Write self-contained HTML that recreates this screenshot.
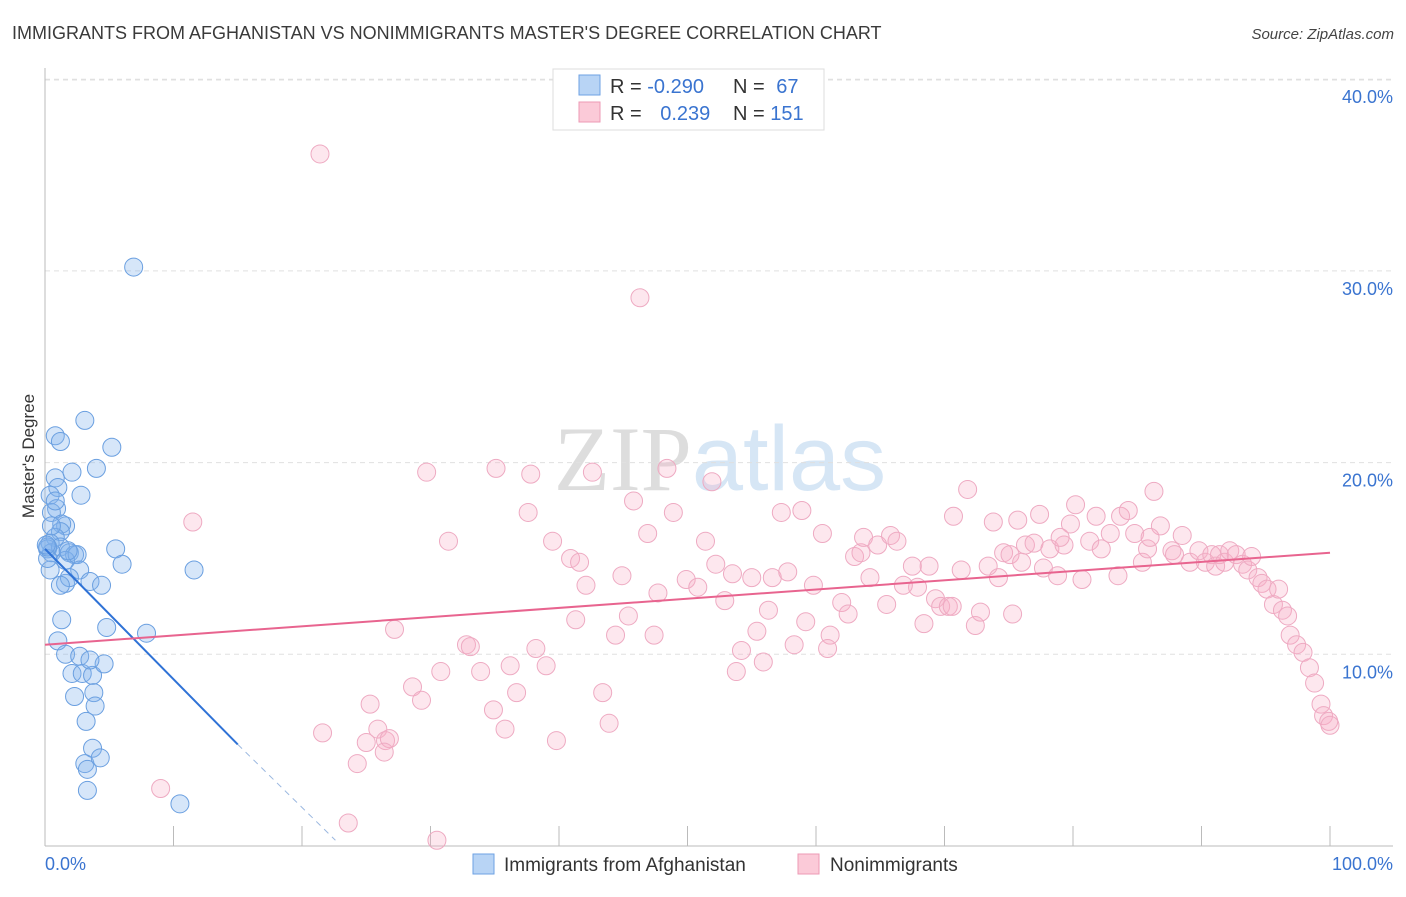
<!DOCTYPE html>
<html><head><meta charset="utf-8"><style>
body{margin:0;background:#fff;font-family:"Liberation Sans",sans-serif;}
svg text{font-family:"Liberation Sans",sans-serif;}
</style></head><body>
<svg id="chart" width="1406" height="892" xmlns="http://www.w3.org/2000/svg">
<text x="12" y="39" font-size="18" fill="#3a3a3a">IMMIGRANTS FROM AFGHANISTAN VS NONIMMIGRANTS MASTER'S DEGREE CORRELATION CHART</text>
<text x="1394" y="39" font-size="15" fill="#444" text-anchor="end" font-style="italic">Source: ZipAtlas.com</text>
<text x="720" y="490" font-size="92" text-anchor="middle" opacity="0.6"><tspan font-family="Liberation Serif" fill="#c8c8c8">ZIP</tspan><tspan fill="#bcd6f0">atlas</tspan></text>
<g id="grid"></g>
<g id="axes"></g>
<g id="pts"></g>
<g id="trend"></g>
<text transform="translate(34,456) rotate(-90)" font-size="17" fill="#333" text-anchor="middle">Master's Degree</text>
<text x="45" y="870" font-size="18" fill="#3a74d0">0.0%</text>
<text x="1393" y="870" font-size="18" fill="#3a74d0" text-anchor="end">100.0%</text>
<g>
<rect x="553" y="69" width="271" height="61" fill="#fff" stroke="#ddd"/>
<rect x="579" y="75" width="21" height="20" fill="#b8d4f5" stroke="#6ea2e3"/>
<rect x="579" y="102" width="21" height="20" fill="#fbcad8" stroke="#ec9ab5"/>
<text x="610" y="93" font-size="20" fill="#333">R = <tspan fill="#3a74d0">-0.290</tspan></text>
<text x="733" y="93" font-size="20" fill="#333">N = <tspan fill="#3a74d0" dx="6">67</tspan></text>
<text x="610" y="120" font-size="20" fill="#333">R = <tspan fill="#3a74d0" dx="13">0.239</tspan></text>
<text x="733" y="120" font-size="20" fill="#333">N = <tspan fill="#3a74d0">151</tspan></text>
</g>
<g>
<rect x="473" y="854" width="21" height="20" fill="#b8d4f5" stroke="#6ea2e3"/>
<text x="504" y="871" font-size="19" fill="#333">Immigrants from Afghanistan</text>
<rect x="798" y="854" width="21" height="20" fill="#fbcad8" stroke="#ec9ab5"/>
<text x="830" y="871" font-size="19" fill="#333">Nonimmigrants</text>
</g>
</svg>
<script>
const yTicks=[10,20,30,40];
const yTickLabels=["10.0%","20.0%","30.0%","40.0%"];
const xTicks=[0,10,20,30,40,50,60,70,80,90,100];
const blueX=[6.9,3.1,0.8,1.2,5.2,4.0,2.1,2.8,0.8,1.0,0.4,0.9,0.5,1.6,1.3,1.2,0.8,0.4,0.2,0.5,1.2,1.9,2.3,5.5,1.6,2.5,2.7,6.0,1.6,3.5,4.4,11.6,4.8,7.9,1.3,1.0,1.6,2.7,2.1,2.9,3.7,4.6,3.5,3.8,2.3,3.9,3.2,3.7,3.1,3.3,4.3,10.5,3.3,0.4,0.2,0.5,0.2,1.9,1.2,0.8,1.8,0.1];
const blueY=[30.2,22.2,21.4,21.1,20.8,19.7,19.5,18.3,19.2,18.7,18.3,17.6,17.4,16.7,16.8,16.4,16.1,15.8,15.5,15.3,15.6,15.3,15.2,15.5,14.9,15.2,14.4,14.7,13.7,13.8,13.6,14.4,11.4,11.1,11.8,10.7,10.0,9.9,9.0,9.0,8.9,9.5,9.7,8.0,7.8,7.3,6.5,5.1,4.3,4.0,4.6,2.2,2.9,14.4,15.0,16.7,15.6,14.0,13.6,18.0,15.4,15.7];
const pinkX=[21.4,46.3,11.5,9.0,23.6,30.5,29.7,35.1,37.8,42.6,48.4,51.9,31.4,37.6,39.5,40.9,41.6,42.1,41.3,45.8,46.9,44.9,45.4,44.4,47.4,47.7,48.9,49.9,50.8,51.4,52.2,52.9,53.5,55.0,56.3,55.4,54.2,53.8,55.9,57.3,58.9,56.6,57.8,59.2,58.3,59.8,60.5,61.1,60.9,62.0,62.5,63.0,63.5,63.7,64.2,64.8,65.5,65.8,66.3,67.5,67.9,66.8,68.4,68.8,69.3,69.7,70.3,70.6,70.7,71.3,71.8,72.4,72.8,73.4,73.8,74.2,74.6,75.1,75.7,76.0,76.3,76.97,77.4,77.7,78.2,78.8,79.3,79.8,80.2,80.7,81.3,81.8,82.2,82.9,83.5,83.7,84.3,84.8,85.4,85.8,86.3,86.8,87.7,87.9,88.5,89.1,89.8,90.3,90.8,91.1,91.4,91.8,92.2,92.7,93.2,93.6,93.9,94.4,94.7,95.1,95.6,96.0,96.3,96.7,96.9,97.4,97.9,98.4,98.8,99.3,99.5,99.9,100,27.2,32.8,33.1,30.8,33.9,36.2,38.2,39.0,28.6,29.3,36.7,34.9,35.8,25.3,25.9,26.5,26.8,26.4,25.0,24.3,21.6,39.8,43.4,43.9,75.3,79.0,86.0];
const pinkY=[36.1,28.6,16.9,3.0,1.2,0.3,19.5,19.7,19.4,19.5,19.7,19.0,15.9,17.4,15.9,15.0,14.8,13.6,11.8,18.0,16.3,14.1,12.0,11.0,11.0,13.2,17.4,13.9,13.5,15.9,14.7,12.8,14.2,14.0,12.3,11.2,10.2,9.1,9.6,17.4,17.5,14.0,14.3,11.7,10.5,13.6,16.3,11.0,10.3,12.7,12.1,15.1,15.3,16.1,14.0,15.7,12.6,16.2,15.9,14.6,13.5,13.6,11.6,14.6,12.9,12.5,12.5,12.5,17.2,14.4,18.6,11.5,12.2,14.6,16.9,14.0,15.3,15.2,17.0,14.8,15.7,15.8,17.3,14.5,15.5,14.1,15.7,16.8,17.8,13.9,15.9,17.2,15.5,16.3,14.1,17.2,17.5,16.3,14.8,15.5,18.5,16.7,15.4,15.2,16.2,14.8,15.4,14.8,15.2,14.6,15.2,14.8,15.4,15.2,14.7,14.4,15.1,14.0,13.7,13.4,12.6,13.4,12.3,12.0,11.0,10.5,10.1,9.3,8.5,7.4,6.8,6.5,6.3,11.3,10.5,10.4,9.1,9.1,9.4,10.3,9.4,8.3,7.6,8.0,7.1,6.1,7.4,6.1,5.5,5.6,4.9,5.4,4.3,5.9,5.5,8.0,6.4,12.1,16.1,16.1];
const X0=45,X1=1330,Y0=846,PPY=19.17;
const sx=v=>X0+(X1-X0)*v/100, sy=v=>Y0-v*PPY;
const NS="http://www.w3.org/2000/svg";
function mk(tag,attrs,parent){const e=document.createElementNS(NS,tag);for(const k in attrs)e.setAttribute(k,attrs[k]);parent.appendChild(e);return e;}
const grid=document.getElementById('grid'),axes=document.getElementById('axes'),pts=document.getElementById('pts'),trend=document.getElementById('trend');
yTicks.forEach((t,i)=>{
 const l=mk('line',{x1:X0,x2:1393,y1:sy(t),y2:sy(t),stroke:'#e0e0e0','stroke-dasharray':'5,4'},grid);
 
 
 const tx=mk('text',{x:1393,y:sy(t)+24,'font-size':18,fill:'#3a74d0','text-anchor':'end'},grid);
 tx.textContent=yTickLabels[i];
 
 
});
const topl=mk('line',{x1:X0,x2:1393,y1:80,y2:80,stroke:'#e0e0e0','stroke-dasharray':'5,4'},grid);


const ya=mk('line',{x1:X0,x2:X0,y1:68,y2:Y0,stroke:'#bbb'},axes);


const xa=mk('line',{x1:X0,x2:1393,y1:Y0,y2:Y0,stroke:'#bbb'},axes);


xTicks.forEach(t=>{const l=mk('line',{x1:sx(t),x2:sx(t),y1:826,y2:Y0,stroke:'#bbb'},axes);
 
 });
pinkX.forEach((x,i)=>{const c=mk('circle',{cx:sx(x),cy:sy(pinkY[i]),r:9,fill:'rgba(248,175,200,0.3)',stroke:'#eeaac2','stroke-width':1},pts);
 
 });
blueX.forEach((x,i)=>{const c=mk('circle',{cx:sx(x),cy:sy(blueY[i]),r:9,fill:'rgba(130,178,238,0.33)',stroke:'#6a9fe0','stroke-width':1},pts);
 
 });
const bt=mk('line',{x1:sx(0),y1:sy(15.5),x2:sx(15),y2:sy(5.3),stroke:'#2f72d6','stroke-width':2},trend);


const bd=mk('line',{x1:sx(15),y1:sy(5.3),x2:sx(22.6),y2:sy(0.3),stroke:'#9bb8e0','stroke-width':1,'stroke-dasharray':'6,5'},trend);


const pt=mk('line',{x1:sx(0),y1:sy(10.5),x2:sx(100),y2:sy(15.3),stroke:'#e8648f','stroke-width':2},trend);


</script>
</body></html>
